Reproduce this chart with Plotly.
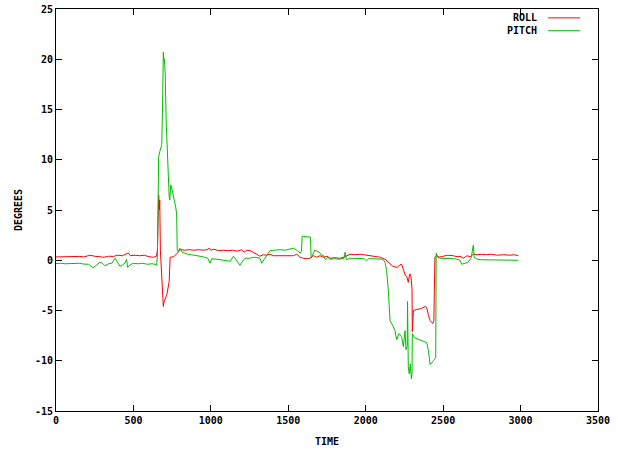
import plotly.graph_objects as go

roll_t = [0, 30, 60, 90, 120, 150, 180, 220, 250, 280,
          310, 340, 370, 400, 430, 467, 480, 510, 540, 570,
          600, 630, 648, 655, 663, 667, 670, 674, 679, 685,
          693, 697, 705, 716, 731, 735, 737, 760, 779, 790,
          800, 830, 860, 890, 920, 950, 975, 990, 1000, 1020,
          1050, 1080, 1110, 1140, 1170, 1200, 1215, 1232, 1253, 1275,
          1296, 1317, 1339, 1360, 1382, 1404, 1440, 1470, 1500, 1533,
          1555, 1576, 1597, 1620, 1640, 1662, 1683, 1705, 1726, 1750,
          1770, 1800, 1835, 1867, 1899, 1930, 1964, 2000, 2028, 2060,
          2093, 2125, 2157, 2175, 2189, 2205, 2220, 2232, 2245, 2255,
          2265, 2275, 2283, 2290, 2295, 2299, 2301, 2308, 2330, 2360,
          2385, 2394, 2405, 2416, 2433, 2440, 2443, 2447, 2458, 2475,
          2500, 2530, 2566, 2590, 2609, 2630, 2655, 2675, 2695, 2720,
          2750, 2780, 2810, 2850, 2890, 2930, 2960, 2985]
roll_v = [0.33, 0.35, 0.33, 0.4, 0.35, 0.38, 0.33, 0.5, 0.4, 0.35,
          0.3, 0.4, 0.38, 0.5, 0.45, 0.73, 0.45, 0.5, 0.45, 0.5,
          0.35, 0.3, 0.4, 1.0, 6.5, 5.0, 6.0, 1.0, -0.3, -1.3,
          -4.6, -4.2, -3.9, -3.4, -2.1, -1.0, 0.3, 0.35, 0.6, 0.8,
          1.06, 1.0, 1.05, 1.0, 1.05, 1.0, 1.05, 1.2, 1.0, 1.1,
          0.95, 1.0, 0.95, 1.0, 0.9, 1.05, 0.8, 1.0, 0.95, 0.8,
          0.6, 0.4, 0.55, 0.5, 0.6, 0.45, 0.45, 0.5, 0.45, 0.45,
          0.6, 0.3, 0.2, 0.15, 0.2, 0.45, 0.3, 0.45, 0.3, 0.4,
          0.2, 0.25, 0.2, 0.35, 0.6, 0.55, 0.6, 0.5, 0.45, 0.35,
          0.3, 0.1, -0.3, -0.6, -0.66, -0.7, -0.45, -0.4, -1.0, -1.5,
          -1.6, -2.2, -1.4, -1.4, -2.0, -3.0, -7.1, -5.0, -4.9, -4.8,
          -4.6, -4.7, -5.5, -6.0, -6.3, -6.0, -3.2, 0.3, 0.5, 0.3,
          0.4, 0.5, 0.45, 0.35, 0.4, 0.2, 0.45, 0.35, 0.6, 0.55,
          0.6, 0.55, 0.6, 0.5, 0.55, 0.5, 0.55, 0.45]

pitch_t = [0, 30, 60, 90, 120, 150, 180, 210, 241, 260,
           284, 300, 316, 340, 360, 381, 395, 413, 430, 445,
           456, 462, 480, 499, 530, 560, 590, 620, 640, 650,
           655, 660, 663, 670, 676, 683, 688, 693, 697, 700,
           705, 712, 718, 725, 731, 735, 741, 750, 760, 773,
           779, 783, 790, 800, 815, 830, 850, 875, 900, 930,
           960, 980, 995, 1005, 1040, 1080, 1110, 1124, 1146, 1165,
           1188, 1200, 1220, 1250, 1280, 1317, 1328, 1345, 1360, 1382,
           1410, 1446, 1480, 1510, 1533, 1555, 1577, 1585, 1590, 1610,
           1630, 1643, 1648, 1660, 1670, 1685, 1700, 1715, 1726, 1740,
           1755, 1770, 1800, 1830, 1860, 1867, 1875, 1899, 1930, 1960,
           1990, 2006, 2020, 2050, 2080, 2110, 2125, 2135, 2146, 2157,
           2178, 2189, 2200, 2215, 2232, 2243, 2254, 2260, 2268, 2270,
           2275, 2281, 2288, 2295, 2299, 2301, 2315, 2345, 2370, 2394,
           2405, 2416, 2437, 2452, 2455, 2465, 2480, 2500, 2530, 2566,
           2590, 2609, 2620, 2640, 2660, 2680, 2695, 2700, 2720, 2750,
           2800, 2850, 2900, 2950, 2985]
pitch_v = [-0.33, -0.3, -0.35, -0.33, -0.35, -0.3, -0.38, -0.4, -0.75, -0.5,
           -0.2, -0.3, -0.55, -0.35, -0.3, 0.2, -0.1, -0.6, -0.45, -0.3,
           0.1, -0.7, -0.45, -0.3, -0.35, -0.3, -0.4, -0.35, -0.4, -0.5,
           0.5, 6.6, 10.3, 10.8, 11.3, 11.5, 15.3, 20.7, 19.9, 20.0,
           18.6, 13.6, 11.0, 7.7, 6.3, 6.0, 7.5, 7.0, 6.3, 5.3,
           4.6, 1.0, 0.8, 1.2, 0.8, 0.7, 0.6, 0.55, 0.5, 0.4,
           0.3, 0.2, -0.3, 0.15, 0.1, 0.0, -0.1, -0.1, 0.4, 0.0,
           -0.5, -0.2, 0.2, 0.2, 0.3, 0.2, -0.3, 0.1, 0.4, 0.95,
           1.0, 1.05, 1.0, 1.1, 1.2, 1.0, 0.7, 0.9, 2.4, 2.35,
           2.3, 2.3, 0.2, 0.6, 1.0, 0.9, 0.8, 0.5, 0.5, 0.05,
           0.3, 0.1, 0.15, 0.1, 0.2, 0.8, 0.05, 0.2, 0.2, 0.2,
           0.15, -0.05, 0.15, 0.15, 0.15, 0.1, -0.2, -1.0, -3.0, -6.0,
           -6.6, -7.0, -7.9, -7.3, -7.6, -8.6, -7.0, -8.9, -8.5, -4.1,
           -10.6, -11.3, -10.3, -11.8, -11.3, -7.3, -7.7, -7.9, -8.0, -8.2,
           -9.0, -10.4, -10.0, -9.7, 0.7, 0.3, 0.2, 0.2, 0.15, 0.15,
           0.1, 0.0, -0.4, -0.3, -0.2, 0.2, 1.5, 0.3, 0.1, 0.05,
           0.05, 0.0, 0.05, 0.0, 0.0]

x_ticks = [0, 500, 1000, 1500, 2000, 2500, 3000, 3500]
y_ticks = [-15, -10, -5, 0, 5, 10, 15, 20, 25]

ROLL_COLOR = "#ff0000"
PITCH_COLOR = "#00c000"
FONT = dict(family="DejaVu Sans Mono", size=10, color="#000000", weight="bold")

fig = go.Figure()
fig.add_trace(go.Scatter(x=roll_t, y=roll_v, mode="lines", name="ROLL",
                         line=dict(color=ROLL_COLOR, width=1)))
fig.add_trace(go.Scatter(x=pitch_t, y=pitch_v, mode="lines", name="PITCH",
                         line=dict(color=PITCH_COLOR, width=1)))

axis_common = dict(showgrid=False, zeroline=False, showline=True, linecolor="#000000",
                   linewidth=1, mirror="ticks", ticks="inside", ticklen=6,
                   tickcolor="#000000", tickfont=FONT, automargin=False)

fig.update_xaxes(range=[0, 3500], tickvals=x_ticks, ticktext=[str(v) for v in x_ticks],
                 **axis_common)
fig.update_yaxes(range=[-15, 25], tickvals=y_ticks, ticktext=[str(v) for v in y_ticks],
                 **axis_common)

# axis titles
fig.add_annotation(xref="paper", yref="paper", x=0.5, y=-0.077, text="TIME",
                   showarrow=False, xanchor="center", yanchor="middle", font=FONT)
fig.add_annotation(xref="paper", yref="paper", x=-0.070, y=0.5, text="DEGREES",
                   showarrow=False, xanchor="center", yanchor="middle", textangle=-90,
                   font=FONT)

# gnuplot-style key: label then line sample
legend_items = [("ROLL", ROLL_COLOR, 0.978), ("PITCH", PITCH_COLOR, 0.946)]
for label, color, yp in legend_items:
    fig.add_annotation(xref="paper", yref="paper", x=0.891, y=yp, text=label,
                       showarrow=False, xanchor="right", yanchor="middle", font=FONT)
    fig.add_shape(type="line", xref="paper", yref="paper", x0=0.908, x1=0.967,
                  y0=yp, y1=yp, line=dict(color=color, width=1))

fig.update_layout(width=618, height=450, showlegend=False,
                  margin=dict(l=56, r=20, t=9, b=39),
                  plot_bgcolor="#ffffff", paper_bgcolor="#ffffff", font=FONT)

fig.write_html("out.html", config={"displayModeBar": False},
               post_script="document.body.style.margin='0';document.body.style.overflow='hidden';")
